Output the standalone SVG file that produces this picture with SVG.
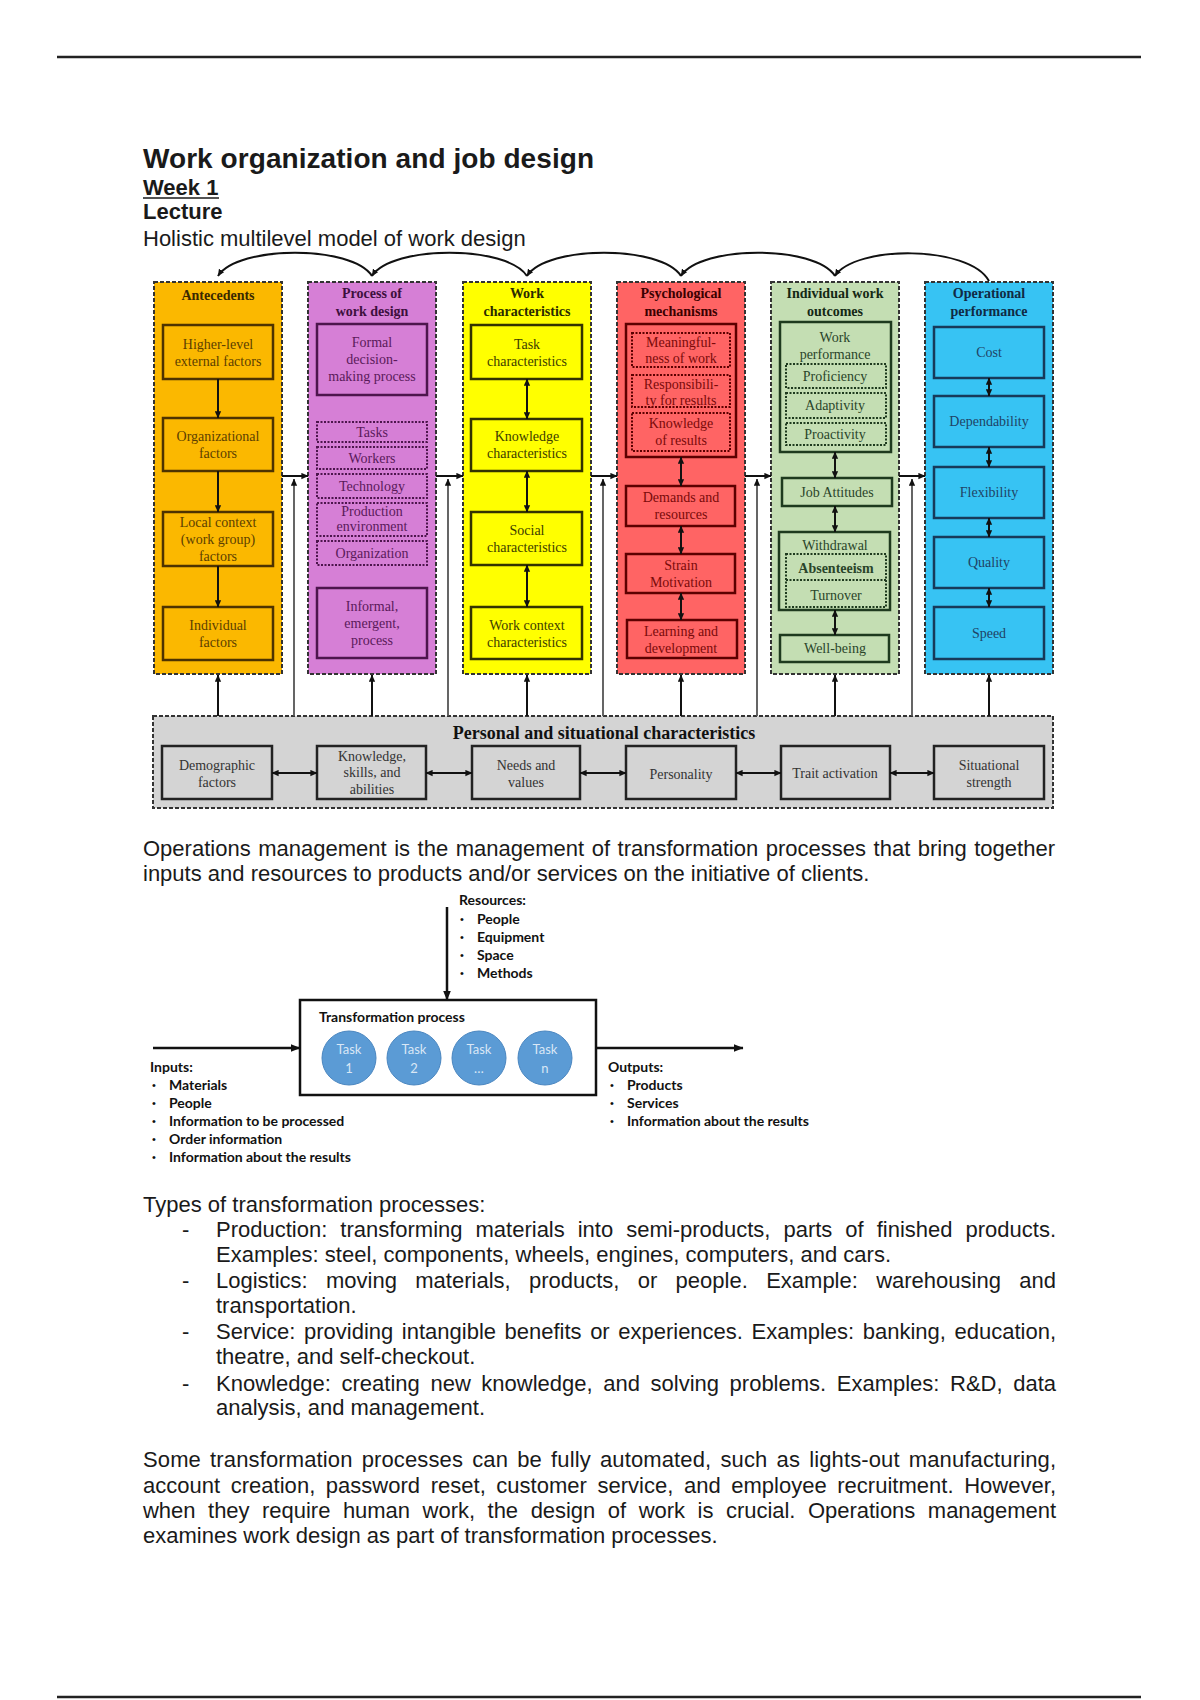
<svg xmlns="http://www.w3.org/2000/svg" width="1200" height="1700" viewBox="0 0 1200 1700">
<defs>
<marker id="ah" viewBox="0 0 10 10" refX="9.5" refY="5" markerWidth="7" markerHeight="7" markerUnits="userSpaceOnUse" orient="auto-start-reverse"><path d="M0,0.5 L10,5 L0,9.5 z" fill="#111"/></marker>
<marker id="ahb" viewBox="0 0 10 10" refX="9.5" refY="5" markerWidth="10" markerHeight="10" markerUnits="userSpaceOnUse" orient="auto-start-reverse"><path d="M0,1 L10,5 L0,9 z" fill="#111"/></marker>
<style>
.doc{font-family:"Liberation Sans",Arial,sans-serif;fill:#1a1a1a;font-size:22px}
.b{font-weight:bold}
.col{stroke:#333;stroke-width:2;stroke-dasharray:4 2}
.hd{font-family:"Liberation Serif","Times New Roman",serif;font-weight:bold;font-size:14px;text-anchor:middle;stroke:none}
.ttl{font-family:"Liberation Serif","Times New Roman",serif;font-weight:bold;font-size:18px;text-anchor:middle;stroke:none;fill:#111}
.tx{font-family:"Liberation Serif","Times New Roman",serif;font-size:14px;text-anchor:middle;stroke:none}
.bx{fill:none;stroke-width:2.5}
.dt{fill:none;stroke-width:2;stroke-dasharray:2 1.5}
.ln{stroke:#111;stroke-width:2;fill:none}
.mod{stroke:#555;stroke-width:1.8;fill:none}
.cal{font-family:Lato,"Liberation Sans",sans-serif;font-weight:bold;font-size:14px;fill:#111}
.bul{font-family:"Liberation Sans",sans-serif;font-size:11px;fill:#111}
.tk{font-family:Lato,"Liberation Sans",sans-serif;font-size:13px;fill:#d9e7f5;text-anchor:middle}
.rule{stroke:#222;stroke-width:2.5}
</style>
</defs>
<rect width="1200" height="1700" fill="#ffffff"/>
<line class="rule" x1="57" y1="57" x2="1141" y2="57"/>
<line class="rule" x1="57" y1="1697" x2="1141" y2="1697"/>

<g id="heading" class="doc">
<text x="143" y="168" font-size="28" font-weight="bold" textLength="451">Work organization and job design</text>
<text x="143" y="195" class="b">Week 1</text>
<line x1="143" y1="198" x2="219" y2="198" stroke="#1a1a1a" stroke-width="1.6"/>
<text x="143" y="219" class="b">Lecture</text>
<text x="143" y="246">Holistic multilevel model of work design</text>
</g>

<!-- Columns -->
<g id="antecedents" fill="#5c4000" stroke="#4d3300">
<rect x="154" y="282" width="128" height="392" fill="#FBB800" class="col"/>
<text class="hd" x="218" y="300" fill="#3a2800">Antecedents</text>
<g id="higher-level"><rect class="bx" x="163" y="325" width="110" height="54"/><text class="tx"><tspan x="218" y="349">Higher-level</tspan><tspan x="218" y="366">external factors</tspan></text></g>
<g id="organizational"><rect class="bx" x="163" y="418" width="110" height="53"/><text class="tx"><tspan x="218" y="441">Organizational</tspan><tspan x="218" y="458">factors</tspan></text></g>
<g id="local-context"><rect class="bx" x="163" y="512" width="110" height="54"/><text class="tx"><tspan x="218" y="527">Local context</tspan><tspan x="218" y="544">(work group)</tspan><tspan x="218" y="561">factors</tspan></text></g>
<g id="individual"><rect class="bx" x="163" y="607" width="110" height="53"/><text class="tx"><tspan x="218" y="630">Individual</tspan><tspan x="218" y="647">factors</tspan></text></g>
</g>

<g id="process" fill="#5a1a5a" stroke="#4d154d">
<rect x="308" y="282" width="128" height="392" fill="#D67FD6" class="col"/>
<text class="hd" fill="#3d0f3d"><tspan x="372" y="298">Process of</tspan><tspan x="372" y="316">work design</tspan></text>
<g id="formal"><rect class="bx" x="317" y="324" width="110" height="71"/><text class="tx"><tspan x="372" y="347">Formal</tspan><tspan x="372" y="364">decision-</tspan><tspan x="372" y="381">making process</tspan></text></g>
<g id="tasks"><rect class="dt" x="317" y="422" width="110" height="20"/><text class="tx" x="372" y="437">Tasks</text></g>
<g id="workers"><rect class="dt" x="317" y="447" width="110" height="22"/><text class="tx" x="372" y="463">Workers</text></g>
<g id="technology"><rect class="dt" x="317" y="474" width="110" height="24"/><text class="tx" x="372" y="491">Technology</text></g>
<g id="production-env"><rect class="dt" x="317" y="503" width="110" height="33"/><text class="tx"><tspan x="372" y="516">Production</tspan><tspan x="372" y="531">environment</tspan></text></g>
<g id="organization"><rect class="dt" x="317" y="541" width="110" height="24"/><text class="tx" x="372" y="558">Organization</text></g>
<g id="informal"><rect class="bx" x="317" y="588" width="110" height="70"/><text class="tx"><tspan x="372" y="611">Informal,</tspan><tspan x="372" y="628">emergent,</tspan><tspan x="372" y="645">process</tspan></text></g>
</g>

<g id="work-characteristics" fill="#3d3d00" stroke="#333300">
<rect x="463" y="282" width="128" height="392" fill="#FFFF00" class="col"/>
<text class="hd" fill="#2a2a00"><tspan x="527" y="298">Work</tspan><tspan x="527" y="316">characteristics</tspan></text>
<g id="task-char"><rect class="bx" x="471" y="325" width="111" height="54"/><text class="tx"><tspan x="527" y="349">Task</tspan><tspan x="527" y="366">characteristics</tspan></text></g>
<g id="knowledge-char"><rect class="bx" x="471" y="419" width="111" height="52"/><text class="tx"><tspan x="527" y="441">Knowledge</tspan><tspan x="527" y="458">characteristics</tspan></text></g>
<g id="social-char"><rect class="bx" x="471" y="512" width="111" height="53"/><text class="tx"><tspan x="527" y="535">Social</tspan><tspan x="527" y="552">characteristics</tspan></text></g>
<g id="context-char"><rect class="bx" x="471" y="607" width="111" height="52"/><text class="tx"><tspan x="527" y="630">Work context</tspan><tspan x="527" y="647">characteristics</tspan></text></g>
</g>

<g id="psychological" fill="#7a0a0a" stroke="#5c0000">
<rect x="617" y="282" width="128" height="392" fill="#FF6464" class="col"/>
<text class="hd" fill="#3a0000"><tspan x="681" y="298">Psychological</tspan><tspan x="681" y="316">mechanisms</tspan></text>
<g id="critical-states"><rect class="bx" x="626" y="324" width="110" height="133"/>
<g id="meaningfulness"><rect class="dt" x="632" y="333" width="98" height="34"/><text class="tx"><tspan x="681" y="347">Meaningful-</tspan><tspan x="681" y="363">ness of work</tspan></text></g>
<g id="responsibility"><rect class="dt" x="632" y="375" width="98" height="32"/><text class="tx"><tspan x="681" y="389">Responsibili-</tspan><tspan x="681" y="405">ty for results</tspan></text></g>
<g id="knowledge-results"><rect class="dt" x="632" y="413" width="98" height="38"/><text class="tx"><tspan x="681" y="428">Knowledge</tspan><tspan x="681" y="445">of results</tspan></text></g>
</g>
<g id="demands"><rect class="bx" x="626" y="486" width="109" height="40"/><text class="tx"><tspan x="681" y="502">Demands and</tspan><tspan x="681" y="519">resources</tspan></text></g>
<g id="strain"><rect class="bx" x="626" y="554" width="109" height="39"/><text class="tx"><tspan x="681" y="570">Strain</tspan><tspan x="681" y="587">Motivation</tspan></text></g>
<g id="learning"><rect class="bx" x="627" y="620" width="110" height="38"/><text class="tx"><tspan x="681" y="636">Learning and</tspan><tspan x="681" y="653">development</tspan></text></g>
</g>

<g id="individual-outcomes" fill="#2a452a" stroke="#1e3a1e">
<rect x="771" y="282" width="128" height="392" fill="#C4DEB3" class="col"/>
<text class="hd" fill="#142814"><tspan x="835" y="298">Individual work</tspan><tspan x="835" y="316">outcomes</tspan></text>
<g id="work-performance"><rect class="bx" x="780" y="322" width="111" height="130"/><text class="tx"><tspan x="835" y="342">Work</tspan><tspan x="835" y="359">performance</tspan></text>
<g id="proficiency"><rect class="dt" x="786" y="364" width="100" height="24"/><text class="tx" x="835" y="381">Proficiency</text></g>
<g id="adaptivity"><rect class="dt" x="786" y="393" width="100" height="25"/><text class="tx" x="835" y="410">Adaptivity</text></g>
<g id="proactivity"><rect class="dt" x="786" y="423" width="100" height="22"/><text class="tx" x="835" y="439">Proactivity</text></g>
</g>
<g id="job-attitudes"><rect class="bx" x="782" y="478" width="110" height="28"/><text class="tx" x="837" y="497">Job Attitudes</text></g>
<g id="withdrawal"><rect class="bx" x="779" y="532" width="111" height="78"/><text class="tx" x="835" y="550">Withdrawal</text>
<rect class="dt" x="786" y="554" width="100" height="53"/>
<line class="dt" x1="786" y1="580" x2="886" y2="580"/>
<text class="tx" x="836" y="573" font-weight="bold">Absenteeism</text>
<text class="tx" x="836" y="600">Turnover</text></g>
<g id="well-being"><rect class="bx" x="780" y="635" width="109" height="27"/><text class="tx" x="835" y="653">Well-being</text></g>
</g>

<g id="operational" fill="#1f4466" stroke="#173a5a">
<rect x="925" y="282" width="128" height="392" fill="#37C3F3" class="col"/>
<text class="hd" fill="#102a44"><tspan x="989" y="298">Operational</tspan><tspan x="989" y="316">performance</tspan></text>
<g id="cost"><rect class="bx" x="934" y="327" width="110" height="51"/><text class="tx" x="989" y="357">Cost</text></g>
<g id="dependability"><rect class="bx" x="934" y="396" width="110" height="51"/><text class="tx" x="989" y="426">Dependability</text></g>
<g id="flexibility"><rect class="bx" x="934" y="467" width="110" height="51"/><text class="tx" x="989" y="497">Flexibility</text></g>
<g id="quality"><rect class="bx" x="934" y="537" width="110" height="51"/><text class="tx" x="989" y="567">Quality</text></g>
<g id="speed"><rect class="bx" x="934" y="607" width="110" height="52"/><text class="tx" x="989" y="638">Speed</text></g>
</g>

<g id="personal-situational" fill="#333" stroke="#222">
<rect x="153" y="716" width="900" height="92" fill="#D4D4D4" class="col"/>
<text class="ttl" x="604" y="739">Personal and situational characteristics</text>
<g id="demographic"><rect class="bx" x="162" y="746" width="110" height="53"/><text class="tx"><tspan x="217" y="770">Demographic</tspan><tspan x="217" y="787">factors</tspan></text></g>
<g id="ksa"><rect class="bx" x="317" y="746" width="109" height="53"/><text class="tx"><tspan x="372" y="761">Knowledge,</tspan><tspan x="372" y="777">skills, and</tspan><tspan x="372" y="794">abilities</tspan></text></g>
<g id="needs"><rect class="bx" x="472" y="746" width="108" height="53"/><text class="tx"><tspan x="526" y="770">Needs and</tspan><tspan x="526" y="787">values</tspan></text></g>
<g id="personality"><rect class="bx" x="626" y="746" width="110" height="53"/><text class="tx" x="681" y="779">Personality</text></g>
<g id="trait-activation"><rect class="bx" x="781" y="746" width="109" height="53"/><text class="tx" x="835" y="778">Trait activation</text></g>
<g id="situational-strength"><rect class="bx" x="934" y="746" width="110" height="53"/><text class="tx"><tspan x="989" y="770">Situational</tspan><tspan x="989" y="787">strength</tspan></text></g>
</g>

<!-- Connectors of model -->
<g id="model-connectors">
<g class="ln" marker-end="url(#ah)">
<path d="M372,276 C352,245 238,245 218,276"/>
<path d="M527,276 C507,245 392,245 372,276"/>
<path d="M681,276 C661,245 547,245 527,276"/>
<path d="M835,276 C815,245 701,245 681,276"/>
<path d="M989,281 C969,245 855,245 835,276"/>
</g>
<g class="ln" marker-end="url(#ah)">
<line x1="218" y1="379" x2="218" y2="418"/>
<line x1="218" y1="471" x2="218" y2="512"/>
<line x1="218" y1="566" x2="218" y2="607"/>
<line x1="282" y1="476" x2="308" y2="476"/>
<line x1="436" y1="476" x2="463" y2="476"/>
<line x1="591" y1="476" x2="617" y2="476"/>
<line x1="745" y1="476" x2="771" y2="476"/>
<line x1="899" y1="476" x2="925" y2="476"/>
<line x1="218" y1="716" x2="218" y2="675"/>
<line x1="372" y1="716" x2="372" y2="675"/>
<line x1="527" y1="716" x2="527" y2="675"/>
<line x1="681" y1="716" x2="681" y2="675"/>
<line x1="835" y1="716" x2="835" y2="675"/>
<line x1="989" y1="716" x2="989" y2="675"/>
</g>
<g class="mod" marker-end="url(#ah)">
<line x1="294" y1="716" x2="294" y2="479"/>
<line x1="448" y1="716" x2="448" y2="479"/>
<line x1="603" y1="716" x2="603" y2="479"/>
<line x1="757" y1="716" x2="757" y2="479"/>
<line x1="912" y1="716" x2="912" y2="479"/>
</g>
<g class="ln" marker-start="url(#ah)" marker-end="url(#ah)">
<line x1="527" y1="379" x2="527" y2="419"/>
<line x1="527" y1="471" x2="527" y2="512"/>
<line x1="527" y1="565" x2="527" y2="607"/>
<line x1="681" y1="457" x2="681" y2="486"/>
<line x1="681" y1="526" x2="681" y2="554"/>
<line x1="681" y1="593" x2="681" y2="620"/>
<line x1="835" y1="452" x2="835" y2="478"/>
<line x1="835" y1="506" x2="835" y2="532"/>
<line x1="835" y1="610" x2="835" y2="635"/>
<line x1="989" y1="378" x2="989" y2="396"/>
<line x1="989" y1="447" x2="989" y2="467"/>
<line x1="989" y1="518" x2="989" y2="537"/>
<line x1="989" y1="588" x2="989" y2="607"/>
<line x1="272" y1="773" x2="317" y2="773"/>
<line x1="426" y1="773" x2="472" y2="773"/>
<line x1="580" y1="773" x2="626" y2="773"/>
<line x1="736" y1="773" x2="781" y2="773"/>
<line x1="890" y1="773" x2="934" y2="773"/>
</g>
</g>

<g id="ops-text" class="doc">
<text x="143" y="856" word-spacing="1.4" textLength="912" lengthAdjust="spacing">Operations management is the management of transformation processes that bring together</text>
<text x="143" y="881">inputs and resources to products and/or services on the initiative of clients.</text>
</g>

<!-- Transformation diagram -->
<g id="transformation-process">
<rect x="300" y="1000" width="296" height="95" fill="#fff" stroke="#111" stroke-width="2.5"/>
<text class="cal" x="319" y="1022">Transformation process</text>
</g>
<g id="task-1"><circle cx="349" cy="1058" r="27" fill="#5B9BD5" stroke="#4a86c0" stroke-width="1"/><text class="tk"><tspan x="349" y="1054">Task</tspan><tspan x="349" y="1073">1</tspan></text></g>
<g id="task-2"><circle cx="414" cy="1058" r="27" fill="#5B9BD5" stroke="#4a86c0" stroke-width="1"/><text class="tk"><tspan x="414" y="1054">Task</tspan><tspan x="414" y="1073">2</tspan></text></g>
<g id="task-3"><circle cx="479" cy="1058" r="27" fill="#5B9BD5" stroke="#4a86c0" stroke-width="1"/><text class="tk"><tspan x="479" y="1054">Task</tspan><tspan x="479" y="1073">…</tspan></text></g>
<g id="task-n"><circle cx="545" cy="1058" r="27" fill="#5B9BD5" stroke="#4a86c0" stroke-width="1"/><text class="tk"><tspan x="545" y="1054">Task</tspan><tspan x="545" y="1073">n</tspan></text></g>

<g id="flow-connectors" stroke="#111" stroke-width="2.5" marker-end="url(#ahb)">
<line x1="447" y1="907" x2="447" y2="1000"/>
<line x1="153" y1="1048" x2="300" y2="1048"/>
<line x1="596" y1="1048" x2="743" y2="1048"/>
</g>

<g id="resources">
<text class="cal" x="459" y="905">Resources:</text>
<text class="bul" x="460" y="923">•</text><text class="cal" x="477" y="924">People</text>
<text class="bul" x="460" y="941">•</text><text class="cal" x="477" y="942">Equipment</text>
<text class="bul" x="460" y="959">•</text><text class="cal" x="477" y="960">Space</text>
<text class="bul" x="460" y="977">•</text><text class="cal" x="477" y="978">Methods</text>
</g>
<g id="inputs">
<text class="cal" x="150" y="1072">Inputs:</text>
<text class="bul" x="152" y="1089">•</text><text class="cal" x="169" y="1090">Materials</text>
<text class="bul" x="152" y="1107">•</text><text class="cal" x="169" y="1108">People</text>
<text class="bul" x="152" y="1125">•</text><text class="cal" x="169" y="1126">Information to be processed</text>
<text class="bul" x="152" y="1143">•</text><text class="cal" x="169" y="1144">Order information</text>
<text class="bul" x="152" y="1161">•</text><text class="cal" x="169" y="1162">Information about the results</text>
</g>
<g id="outputs">
<text class="cal" x="608" y="1072">Outputs:</text>
<text class="bul" x="610" y="1089">•</text><text class="cal" x="627" y="1090">Products</text>
<text class="bul" x="610" y="1107">•</text><text class="cal" x="627" y="1108">Services</text>
<text class="bul" x="610" y="1125">•</text><text class="cal" x="627" y="1126">Information about the results</text>
</g>

<g id="types-text" class="doc">
<text x="143" y="1212">Types of transformation processes:</text>
<text x="182" y="1237">-</text>
<text x="216" y="1237" word-spacing="6.9" textLength="840" lengthAdjust="spacing">Production: transforming materials into semi-products, parts of finished products.</text>
<text x="216" y="1262">Examples: steel, components, wheels, engines, computers, and cars.</text>
<text x="182" y="1288">-</text>
<text x="216" y="1288" word-spacing="12.2" textLength="840" lengthAdjust="spacing">Logistics: moving materials, products, or people. Example: warehousing and</text>
<text x="216" y="1313">transportation.</text>
<text x="182" y="1339">-</text>
<text x="216" y="1339" word-spacing="2.4" textLength="840" lengthAdjust="spacing">Service: providing intangible benefits or experiences. Examples: banking, education,</text>
<text x="216" y="1364">theatre, and self-checkout.</text>
<text x="182" y="1391">-</text>
<text x="216" y="1391" word-spacing="4.5" textLength="840" lengthAdjust="spacing">Knowledge: creating new knowledge, and solving problems. Examples: R&amp;D, data</text>
<text x="216" y="1415">analysis, and management.</text>
</g>
<g id="automation-text" class="doc">
<text x="143" y="1467" word-spacing="2.9" textLength="913" lengthAdjust="spacing">Some transformation processes can be fully automated, such as lights-out manufacturing,</text>
<text x="143" y="1493" word-spacing="4.4" textLength="913" lengthAdjust="spacing">account creation, password reset, customer service, and employee recruitment. However,</text>
<text x="143" y="1518" word-spacing="6.5" textLength="913" lengthAdjust="spacing">when they require human work, the design of work is crucial. Operations management</text>
<text x="143" y="1543">examines work design as part of transformation processes.</text>
</g>
</svg>
